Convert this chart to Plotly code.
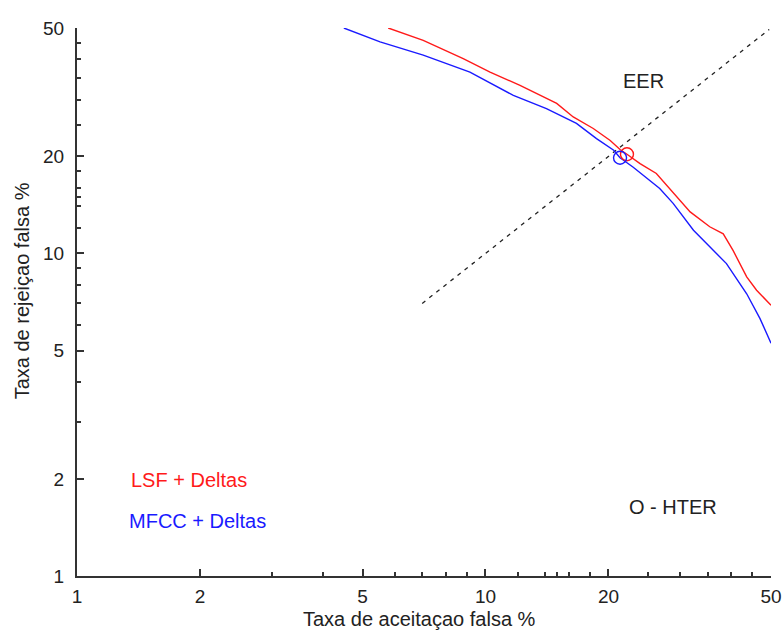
import plotly.graph_objects as go

# Data
lsf_far = [5.78, 7.04, 8.82, 10.26, 12.15, 14.94, 16.4, 18.36, 20.2, 21.35, 22.2, 23.9, 26.2, 28.8, 31.7, 35.4, 38.2, 40.4, 43.6, 46.1, 50.0]
lsf_frr = [50.0, 45.8, 40.2, 36.5, 33.2, 29.2, 26.5, 24.4, 22.4, 21.0, 20.3, 19.0, 17.7, 15.5, 13.45, 12.1, 11.5, 10.2, 8.46, 7.69, 6.91]

mfcc_far = [4.5, 5.52, 7.04, 9.16, 11.7, 14.1, 16.7, 18.7, 20.6, 21.35, 23.0, 26.7, 28.8, 32.3, 38.9, 43.6, 47.0, 50.0]
mfcc_frr = [50.0, 45.3, 41.2, 36.5, 30.9, 28.1, 25.3, 22.7, 20.9, 19.8, 18.5, 15.9, 14.3, 11.8, 9.3, 7.5, 6.28, 5.27]

eer_line = [7.0, 49.5]

lsf_hter = (22.2, 20.3)
mfcc_hter = (21.35, 19.8)

major_ticks = [1, 2, 5, 10, 20, 50]
minor_ticks = [3, 4, 6, 7, 8, 9, 12, 14, 15, 16, 18, 25, 30, 35, 40, 45]

FONT = "Liberation Sans"
FS = 20
TICKFS = 19
TXT = "#222222"
AXC = "#333333"
RED = "#ff1a1a"
BLUE = "#1a1aff"

fig = go.Figure()
fig.add_trace(go.Scatter(x=eer_line, y=eer_line, mode="lines",
                         line=dict(color="#222222", width=1.3, dash="4px,5px"),
                         showlegend=False, hoverinfo="skip"))
fig.add_trace(go.Scatter(x=lsf_far, y=lsf_frr, mode="lines",
                         line=dict(color=RED, width=1.4), name="LSF + Deltas", showlegend=False))
fig.add_trace(go.Scatter(x=mfcc_far, y=mfcc_frr, mode="lines",
                         line=dict(color=BLUE, width=1.4), name="MFCC + Deltas", showlegend=False))
fig.add_trace(go.Scatter(x=[lsf_hter[0]], y=[lsf_hter[1]], mode="markers",
                         marker=dict(symbol="circle-open", size=13, color=RED, line=dict(width=1.4)),
                         showlegend=False))
fig.add_trace(go.Scatter(x=[mfcc_hter[0]], y=[mfcc_hter[1]], mode="markers",
                         marker=dict(symbol="circle-open", size=13, color=BLUE, line=dict(width=1.4)),
                         showlegend=False))

axis_common = dict(
    type="log",
    tickmode="array",
    tickvals=major_ticks,
    ticktext=[str(v) for v in major_ticks],
    ticks="inside", ticklen=7, tickwidth=1.5, tickcolor=AXC,
    showline=True, linecolor=AXC, linewidth=2,
    showgrid=False, zeroline=False, automargin=False,
    tickfont=dict(family=FONT, size=TICKFS, color=TXT),
    minor=dict(tickmode="array", tickvals=minor_ticks, ticks="inside",
               ticklen=4, tickwidth=1.5, tickcolor=AXC, showgrid=False),
    range=[0, 1.69897],
)

fig.update_layout(
    width=783, height=630,
    margin=dict(l=77, r=12, t=28, b=54, autoexpand=False),
    paper_bgcolor="white", plot_bgcolor="white",
    xaxis=dict(axis_common, ticklabelstandoff=2),
    yaxis=dict(axis_common, ticklabelstandoff=7),
    annotations=[
        dict(x=0.494, y=-0.079, xref="paper", yref="paper", text="Taxa de aceitaçao falsa %",
             showarrow=False, xanchor="center", yanchor="middle",
             font=dict(family=FONT, size=FS, color=TXT)),
        dict(x=-0.078, y=0.521, xref="paper", yref="paper", text="Taxa de rejeiçao falsa %",
             showarrow=False, xanchor="center", yanchor="middle", textangle=-90,
             font=dict(family=FONT, size=FS, color=TXT)),
        dict(x=1.388, y=1.5355, xref="x", yref="y", text="EER", showarrow=False,
             font=dict(family=FONT, size=FS, color=TXT)),
        dict(x=1.347, y=0.213, xref="x", yref="y", text="O - HTER", showarrow=False,
             xanchor="left", font=dict(family=FONT, size=FS, color=TXT)),
        dict(x=0.128, y=0.298, xref="x", yref="y", text="LSF + Deltas", showarrow=False,
             xanchor="left", font=dict(family=FONT, size=FS, color=RED)),
        dict(x=0.122, y=0.1696, xref="x", yref="y", text="MFCC + Deltas", showarrow=False,
             xanchor="left", font=dict(family=FONT, size=FS, color=BLUE)),
    ],
)

fig.write_html(
    "out.html",
    config={"displayModeBar": False},
    post_script="document.body.style.margin='0px';document.body.style.overflow='hidden';",
)
